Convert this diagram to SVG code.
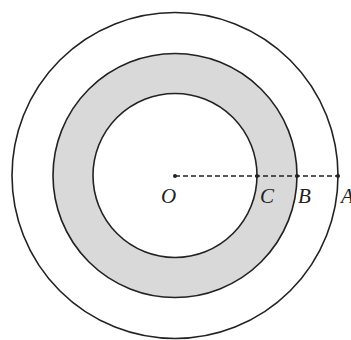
<svg xmlns="http://www.w3.org/2000/svg" width="351" height="340" viewBox="0 0 351 340">
<style>
.c{fill:none;stroke:#222;stroke-width:1.6}
.lbl{font-family:"Liberation Serif","DejaVu Serif",serif;font-style:italic;font-size:21px;fill:#222}
.pt{fill:#222}
</style>
<rect width="351" height="340" fill="#fff"/>
<g id="ring">
<path d="M175,175.5 m-122,0 a122,122 0 1,0 244,0 a122,122 0 1,0 -244,0 Z M175,175.5 m-82,0 a82,82 0 1,0 164,0 a82,82 0 1,0 -164,0 Z" fill="#d9d9d9" fill-rule="evenodd"/>
</g>
<g id="outer"><circle class="c" cx="175" cy="175.5" r="163"/></g>
<g id="middle"><circle class="c" cx="175" cy="175.5" r="122"/></g>
<g id="inner"><circle class="c" cx="175" cy="175.5" r="82"/></g>
<g id="connectors">
<line x1="175" y1="176" x2="338" y2="176" stroke="#222" stroke-width="1.3" stroke-dasharray="5,3"/>
</g>
<g id="O"><circle class="pt" cx="175" cy="176" r="2"/><text class="lbl" x="161" y="203">O</text></g>
<g id="C"><circle class="pt" cx="257" cy="176" r="2"/><text class="lbl" x="260" y="203">C</text></g>
<g id="B"><circle class="pt" cx="297" cy="176" r="2"/><text class="lbl" x="298" y="203">B</text></g>
<g id="A"><circle class="pt" cx="338" cy="176" r="2"/><text class="lbl" x="341" y="203">A</text></g>
</svg>
